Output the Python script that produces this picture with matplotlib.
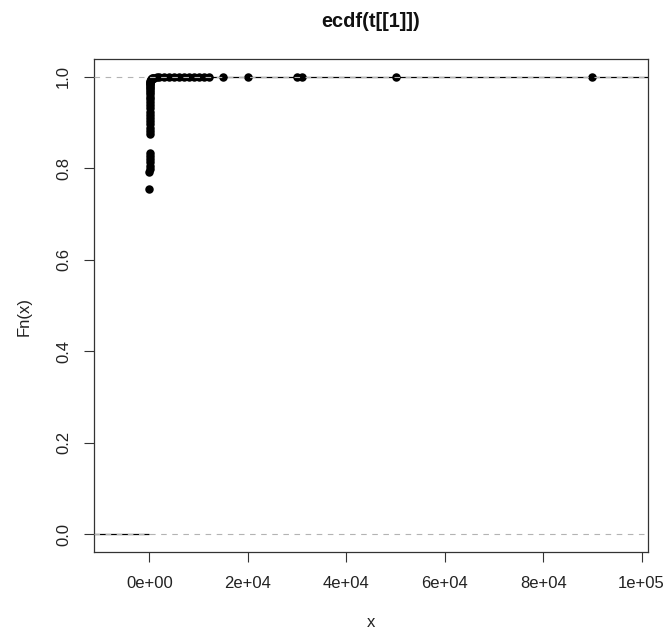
import matplotlib
matplotlib.use("Agg")
import matplotlib.pyplot as plt
import numpy as np

plt.rcParams['font.family'] = ['Liberation Sans', 'DejaVu Sans']

# knots of ecdf(t[[1]]) and the value of Fn at each knot
knot_x = [0, 1, 2, 3, 4, 5, 6, 7, 8, 9, 10, 11, 12, 14, 16, 18, 20, 25, 30,
          35, 40, 45, 50, 60, 70, 80, 90, 100, 120, 150, 200, 250, 300, 400,
          500, 600, 800, 1000, 1500, 2000, 3000, 4000, 5000, 6000, 7000, 8000,
          9000, 10000, 11000, 12000, 15000, 20000, 30000, 31000, 50000, 90000]
knot_fn = [0.755, 0.792, 0.799, 0.806, 0.813, 0.820, 0.827, 0.834, 0.875,
           0.882, 0.889, 0.896, 0.903, 0.910, 0.917, 0.924, 0.931, 0.938,
           0.945, 0.951, 0.957, 0.962, 0.967, 0.971, 0.975, 0.979, 0.982,
           0.985, 0.987, 0.989, 0.991, 0.993, 0.994, 0.995, 0.996, 0.997,
           0.998, 0.9985, 0.999, 0.9991, 0.9992, 0.9993, 0.9994, 0.9995,
           0.9996, 0.99965, 0.9997, 0.99975, 0.9998, 0.99982, 0.99985,
           0.99988, 0.9999, 0.99993, 0.99996, 1.0]

x_ticks = [0, 20000, 40000, 60000, 80000, 100000]
x_ticklabels = ["0e+00", "2e+04", "4e+04", "6e+04", "8e+04", "1e+05"]
y_ticks = [0.0, 0.2, 0.4, 0.6, 0.8, 1.0]
y_ticklabels = ["0.0", "0.2", "0.4", "0.6", "0.8", "1.0"]

kx = np.array(knot_x, dtype=float)
kf = np.array(knot_fn)

# x range the way plot.stepfun picks it, then R's 4% padding
dr = max(0.08 * (kx.max() - kx.min()), np.median(np.diff(kx)))
lo, hi = kx.min() - dr, kx.max() + dr
pad = 0.04 * (hi - lo)
xlim = (lo - pad, hi + pad)

fig = plt.figure(figsize=(6.67, 6.33), dpi=100)
ax = fig.add_axes([0.1402, 0.1275, 0.8318, 0.7798])

# horizontal steps (no verticals)
ax.hlines([0.0], xlim[0], kx[0], color='black', lw=0.9, zorder=2)
ax.hlines(kf[:-1], kx[:-1], kx[1:], color='black', lw=0.9, zorder=2)
ax.hlines([kf[-1]], kx[-1], xlim[1], color='black', lw=0.9, zorder=2)
ax.plot(kx, kf, 'o', color='black', ms=6.1, mew=0, zorder=3)

# dashed gray reference lines at 0 and 1, drawn on top like abline()
for h in (0.0, 1.0):
    ax.axhline(h, color='#b3b3b3', lw=0.8, linestyle=(0, (5, 5)), zorder=4)

ax.set_xlim(*xlim)
ax.set_ylim(-0.04, 1.04)
ax.set_xticks(x_ticks)
ax.set_xticklabels(x_ticklabels)
ax.set_yticks(y_ticks)
ax.set_yticklabels(y_ticklabels, rotation=90, va='center')

ax.tick_params(axis='both', length=7.2, width=0.8, color='#333333',
               labelsize=12, labelcolor='#222222')
ax.tick_params(axis='x', pad=10)
ax.tick_params(axis='y', pad=9)
for s in ax.spines.values():
    s.set_color('#333333')
    s.set_linewidth(0.9)

fig.text(0.556, 0.957, "ecdf(t[[1]])", ha='center', va='baseline',
         fontsize=14.4, fontweight='bold', color='#111111')
fig.text(0.556, 0.0095, "x", ha='center', va='baseline', fontsize=12,
         color='#222222')
fig.text(0.036, 0.5, "Fn(x)", ha='center', va='center', rotation=90,
         fontsize=12, color='#222222')

fig.savefig("out.png", dpi=100)
